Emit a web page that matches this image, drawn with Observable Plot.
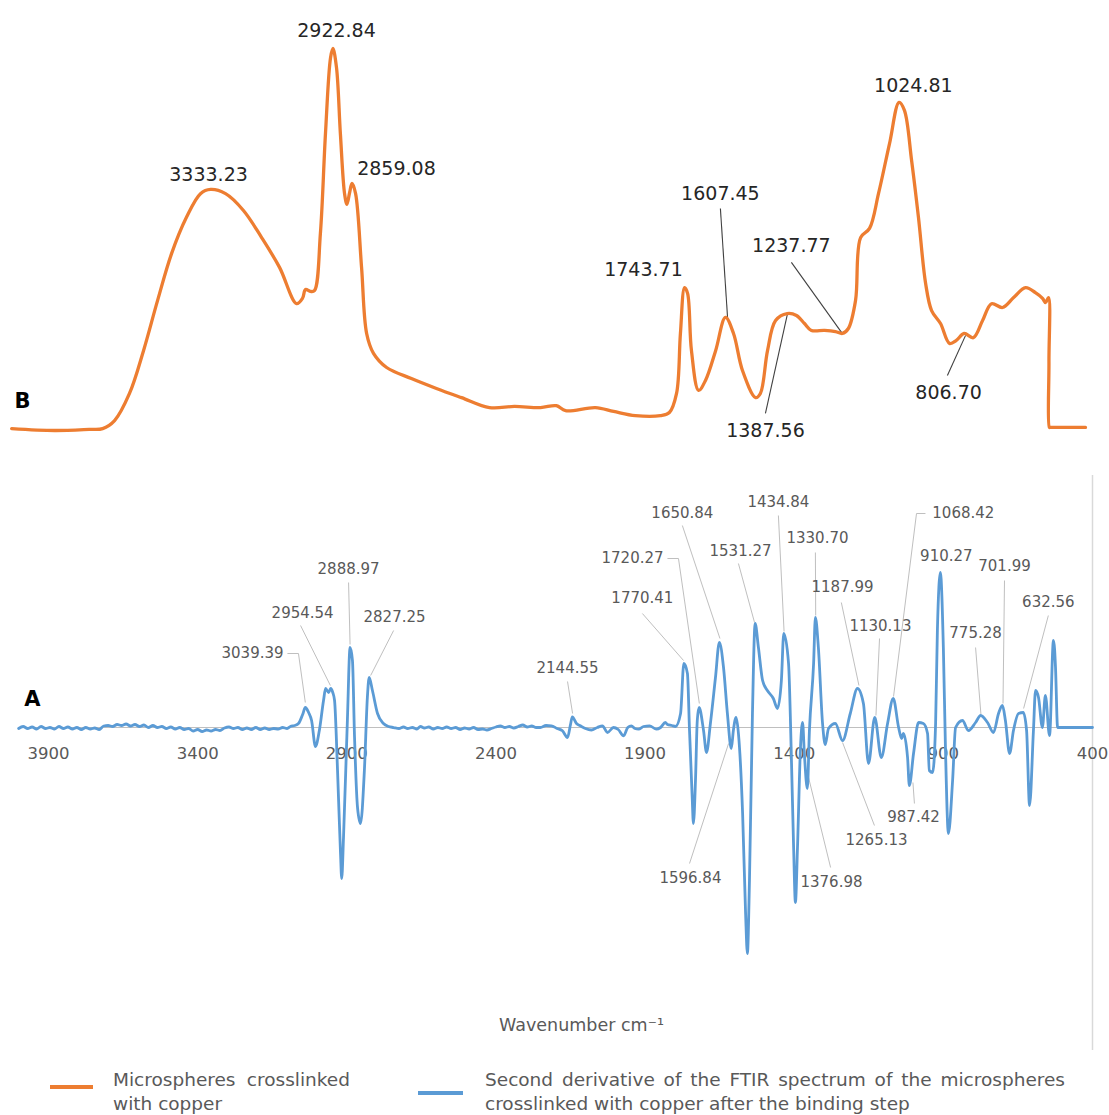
<!DOCTYPE html>
<html>
<head>
<meta charset="utf-8">
<script src="https://cdn.jsdelivr.net/npm/d3@7"></script>
<script src="https://cdn.jsdelivr.net/npm/@observablehq/plot@0.6"></script>
<style>
  html, body { margin: 0; padding: 0; background: #fff; }
  body { width: 1109px; height: 1115px; overflow: hidden; position: relative; font-family: 'DejaVu Sans', sans-serif; }
  #chartB { position: absolute; left: 0; top: 0; }
  #chartA { position: absolute; left: 0; top: 460px; }
  .sw { position: absolute; height: 4px; }
  .lg { position: absolute; top: 1068px; font-size: 18.5px; line-height: 24px; color: #595959; white-space: nowrap; }
  .lg .j { text-align: justify; text-align-last: justify; white-space: normal; }
</style>
</head>
<body>
<div id="chartB"></div>
<div id="chartA"></div>
<div id="legend"></div>
<script>
// ---------- DATA ----------
const xTicks = [3900, 3400, 2900, 2400, 1900, 1400, 900, 400];

// B: FTIR spectrum (relative absorbance) of microspheres crosslinked with copper
const spectrumB = [
  [4000,0.005],[3856,0],[3740,0.003],[3695,0.005],[3655,0.026],[3605,0.097],[3558,0.209],[3511,0.340],
  [3464,0.463],[3414,0.558],[3367,0.620],[3333,0.631],[3283,0.620],[3223,0.576],[3162,0.505],[3102,0.427],
  [3045,0.332],[3025,0.346],[3015,0.369],[2998,0.364],[2985,0.366],[2965,0.516],[2948,0.777],[2931,0.976],
  [2923,1.0],[2911,0.950],[2898,0.777],[2884,0.620],[2876,0.592],[2867,0.623],[2859,0.647],[2847,0.620],
  [2827,0.427],[2810,0.254],[2787,0.202],[2743,0.165],[2660,0.136],[2576,0.110],[2492,0.086],[2398,0.060],
  [2314,0.063],[2227,0.060],[2174,0.065],[2143,0.052],[2043,0.060],[1982,0.050],[1909,0.039],[1825,0.039],
  [1795,0.047],[1771,0.097],[1758,0.254],[1744,0.374],[1734,0.359],[1721,0.209],[1697,0.105],[1674,0.131],
  [1640,0.209],[1607,0.296],[1580,0.254],[1550,0.157],[1506,0.086],[1490,0.097],[1466,0.209],[1439,0.288],
  [1400,0.306],[1369,0.301],[1342,0.280],[1319,0.262],[1275,0.262],[1238,0.259],[1215,0.254],[1195,0.267],
  [1171,0.340],[1154,0.505],[1124,0.529],[1094,0.620],[1057,0.751],[1025,0.859],[1007,0.838],[983,0.707],
  [960,0.558],[936,0.385],[916,0.314],[886,0.280],[856,0.228],[833,0.236],[807,0.254],[776,0.243],
  [745,0.288],[715,0.332],[678,0.322],[641,0.348],[601,0.374],[568,0.361],[544,0.346],[534,0.335],
  [524,0.348],[522.5,0.178],[521,0.008],[518,0.008],[480,0.008],[440,0.008],[400,0.008]
];

// A: second derivative of the FTIR spectrum after the binding step (a.u.)
const spectrumA = [
  [4000,-0.01],[3985,0.01],[3970,-0.01],[3955,0.005],[3940,-0.015],[3925,0.01],[3910,-0.01],[3895,0.0],
  [3880,-0.015],[3865,0.01],[3850,-0.01],[3835,0.005],[3820,-0.015],[3805,0.0],[3790,-0.02],[3775,0.0],
  [3760,-0.015],[3745,-0.005],[3730,-0.02],[3715,0.015],[3700,0.02],[3685,0.01],[3670,0.03],[3655,0.02],
  [3640,0.035],[3625,0.015],[3610,0.03],[3595,0.01],[3580,0.025],[3565,0.0],[3550,0.02],[3535,0.0],
  [3520,0.01],[3505,-0.01],[3490,0.005],[3475,-0.015],[3460,0.0],[3445,-0.02],[3430,-0.01],[3415,-0.035],
  [3400,-0.02],[3385,-0.04],[3370,-0.025],[3355,-0.035],[3340,-0.02],[3325,-0.03],[3310,-0.005],[3295,0.005],
  [3280,-0.01],[3265,0.0],[3250,-0.02],[3235,-0.005],[3220,-0.02],[3205,0.0],[3190,-0.02],[3175,-0.005],
  [3160,-0.02],[3145,-0.01],[3130,-0.015],[3115,0.0],[3100,-0.01],[3089,0.01],[3075,0.02],[3062,0.04],
  [3048,0.13],[3039,0.20],[3028,0.15],[3018,0.07],[3005,-0.19],[2992,-0.03],[2978,0.27],[2971,0.39],
  [2961,0.35],[2954,0.39],[2947,0.35],[2941,0.27],[2931,-0.43],[2921,-1.26],[2917,-1.51],[2911,-1.10],
  [2898,0.07],[2889,0.80],[2881,0.67],[2874,-0.10],[2864,-0.80],[2854,-0.96],[2841,-0.43],[2831,0.30],
  [2825,0.50],[2814,0.37],[2797,0.14],[2777,0.04],[2760,0.01],[2743,0.0],[2725,-0.01],[2710,0.005],
  [2696,-0.01],[2680,0.0],[2665,-0.015],[2653,0.01],[2640,-0.005],[2625,0.005],[2610,-0.015],[2595,0.0],
  [2580,-0.01],[2565,0.005],[2550,-0.01],[2535,0.0],[2520,-0.02],[2505,-0.005],[2490,-0.015],[2475,0.0],
  [2460,-0.02],[2445,-0.015],[2430,-0.025],[2415,-0.01],[2400,0.005],[2385,0.015],[2370,0.0],[2355,0.01],
  [2340,-0.005],[2325,0.01],[2310,0.025],[2295,0.005],[2280,0.015],[2265,0.0],[2251,0.0],[2232,0.02],
  [2214,0.017],[2195,-0.01],[2177,-0.033],[2160,-0.10],[2150,0.03],[2144,0.107],[2130,0.04],[2117,0.017],
  [2100,-0.01],[2080,-0.025],[2060,0.0],[2043,0.017],[2026,-0.05],[2006,0.0],[1990,-0.02],[1972,-0.083],
  [1958,0.0],[1946,0.017],[1934,-0.01],[1922,-0.017],[1905,0.01],[1885,0.017],[1862,-0.017],[1848,0.0],
  [1832,0.05],[1825,0.03],[1810,0.02],[1798,0.01],[1781,0.14],[1770,0.64],[1758,0.54],[1751,-0.03],
  [1742,-0.70],[1738,-0.96],[1731,-0.53],[1725,0.07],[1719,0.20],[1704,-0.03],[1694,-0.25],[1681,0.04],
  [1664,0.50],[1651,0.85],[1637,0.60],[1624,0.14],[1611,-0.21],[1604,-0.03],[1595,0.10],[1587,-0.06],
  [1573,-0.86],[1563,-1.86],[1557,-2.26],[1550,-1.53],[1540,0.14],[1531,1.04],[1520,0.80],[1506,0.47],
  [1490,0.37],[1470,0.29],[1456,0.19],[1443,0.47],[1435,0.94],[1419,0.64],[1409,-0.36],[1402,-1.20],
  [1396,-1.75],[1389,-1.20],[1379,-0.20],[1372,0.05],[1366,-0.26],[1356,-0.61],[1349,-0.03],[1335,0.64],
  [1329,1.10],[1319,0.80],[1305,0.04],[1296,-0.17],[1285,-0.01],[1262,0.04],[1238,-0.13],[1212,0.14],
  [1188,0.39],[1168,0.24],[1151,-0.36],[1130,0.10],[1108,-0.30],[1087,0.04],[1068,0.29],[1050,0.0],
  [1040,-0.11],[1034,-0.06],[1020,-0.30],[1014,-0.58],[1000,-0.26],[983,0.05],[967,0.04],[953,-0.06],
  [947,-0.43],[936,-0.45],[926,0.04],[920,0.97],[910,1.55],[900,0.80],[893,-0.20],[883,-1.06],
  [869,-0.53],[859,0.0],[836,0.07],[816,-0.03],[792,0.05],[775,0.12],[752,0.05],[732,-0.05],
  [715,0.14],[702,0.22],[692,0.07],[678,-0.26],[665,-0.03],[648,0.14],[632,0.15],[621,-0.03],
  [611,-0.78],[598,-0.03],[591,0.37],[581,0.30],[568,0.0],[558,0.32],[544,-0.08],[531,0.87],
  [527,0.78],[524,0.60],[517,0.0],[400,0.0]
];

// Peak labels (text, label wavenumber, label value)
const labelsB = [
  ["3333.23",3340,0.668],["2922.84",2911,1.047],["2859.08",2710,0.686],["1743.71",1882,0.421],
  ["1607.45",1624,0.620],["1237.77",1386,0.484],["1024.81",977,0.901],["1387.56",1473,0.0],["806.70",859,0.099]
];
const leadersB = [
  [1624,0.581,1600,0.296],[1386,0.440,1218,0.257],[1473,0.045,1399,0.306],[863,0.144,802,0.249]
];
const labelsA = [
  ["3039.39",3216,0.74],["2954.54",3048,1.14],["2888.97",2894,1.58],["2827.25",2740,1.10],
  ["2144.55",2160,0.59],["1770.41",1909,1.29],["1720.27",1942,1.69],["1650.84",1775,2.14],
  ["1531.27",1580,1.76],["1434.84",1453,2.25],["1330.70",1322,1.89],["1187.99",1238,1.40],
  ["1130.13",1111,1.01],["1068.42",833,2.14],["910.27",890,1.71],["775.28",792,0.94],
  ["701.99",695,1.61],["632.56",548,1.25],["1596.84",1748,-1.51],["1376.98",1275,-1.55],
  ["1265.13",1124,-1.13],["987.42",1000,-0.90]
];
const leadersA = [
  [3099,0.74,3062,0.74],[3062,0.74,3039,0.25],[3055,1.02,2955,0.42],[2894,1.45,2889,0.83],
  [2743,0.97,2820,0.52],[2160,0.46,2143,0.14],[1909,1.14,1771,0.67],[1825,1.69,1788,1.69],
  [1788,1.69,1718,0.24],[1775,2.02,1649,0.89],[1587,1.64,1533,1.05],[1453,2.12,1434,0.96],
  [1329,1.75,1328,1.12],[1242,1.25,1183,0.42],[1114,0.89,1126,0.12],[960,2.14,990,2.14],
  [990,2.14,1067,0.31],[792,0.80,774,0.13],[695,1.47,700,0.24],[548,1.12,631,0.19],
  [1751,-1.36,1620,-0.16],[1278,-1.40,1356,-0.45],[1131,-0.98,1238,-0.15],[997,-0.76,1002,-0.55]
];
const panelB = [["B",3964,0.076]];
const panelA = [["A",3954,0.28]];
const axisTitle = ["Wavenumber cm\u207B\u00B9"];
const legendItems = [
  {color: "#ED7D31", lines: ["Microspheres crosslinked", "with copper"]},
  {color: "#5B9BD5", lines: ["Second derivative of the FTIR spectrum of the microspheres", "crosslinked with copper after the binding step"]}
];

// ---------- CHART ----------
const ORANGE = "#ED7D31", BLUE = "#5B9BD5";
const svgStyle = {fontFamily: "'DejaVu Sans', sans-serif", background: "transparent", overflow: "visible"};

const plotB = Plot.plot({
  width: 1109, height: 460,
  marginLeft: 41, marginRight: 24, marginTop: 48, marginBottom: 30,
  style: svgStyle,
  x: {domain: [3900, 400], axis: null},
  y: {domain: [0, 1], axis: null},
  marks: [
    Plot.link(leadersB, {x1: d => d[0], y1: d => d[1], x2: d => d[2], y2: d => d[3], stroke: "#404040", strokeWidth: 1.1}),
    Plot.line(spectrumB, {x: d => d[0], y: d => d[1], stroke: ORANGE, strokeWidth: 3.3, curve: "catmull-rom"}),
    Plot.text(labelsB, {x: d => d[1], y: d => d[2], text: d => d[0], fontSize: 19, fill: "#262626"}),
    Plot.text(panelB, {x: d => d[1], y: d => d[2], text: d => d[0], fontSize: 21, fontWeight: "bold", fill: "#000"})
  ]
});
document.getElementById("chartB").appendChild(plotB);

const plotA = Plot.plot({
  width: 1109, height: 600,
  marginLeft: 48, marginRight: 17, marginTop: 15, marginBottom: 10,
  style: svgStyle,
  x: {domain: [3900, 400], axis: null},
  y: {domain: [-3.23, 2.52], axis: null},
  marks: [
    Plot.ruleY([0], {x1: 4000, x2: 400, stroke: "#bfbfbf", strokeWidth: 1}),
    Plot.ruleX([400], {stroke: "#d9d9d9", strokeWidth: 1.5}),
    Plot.text(xTicks, {x: d => d, y: 0, dy: 26, text: d => String(d), fontSize: 16.5, fill: "#595959"}),
    Plot.link(leadersA, {x1: d => d[0], y1: d => d[1], x2: d => d[2], y2: d => d[3], stroke: "#bfbfbf", strokeWidth: 1}),
    Plot.line(spectrumA, {x: d => d[0], y: d => d[1], stroke: BLUE, strokeWidth: 2.8, curve: "monotone-x"}),
    Plot.text(labelsA, {x: d => d[1], y: d => d[2], text: d => d[0], fontSize: 15, fill: "#595959"}),
    Plot.text(panelA, {x: d => d[1], y: d => d[2], text: d => d[0], fontSize: 21, fontWeight: "bold", fill: "#000"}),
    Plot.text(axisTitle, {frameAnchor: "bottom", dy: -20, dx: 11, text: d => d, fontSize: 17.5, fill: "#595959"})
  ]
});
document.getElementById("chartA").appendChild(plotA);

// ---------- LEGEND ----------
const legendLayout = [
  {swLeft: 50, swTop: 1085, swWidth: 43, textLeft: 113, textWidth: 237},
  {swLeft: 418, swTop: 1091, swWidth: 45, textLeft: 485, textWidth: 580}
];
const legendBox = document.getElementById("legend");
legendItems.forEach((item, i) => {
  const L = legendLayout[i];
  const sw = document.createElement("div");
  sw.className = "sw";
  sw.style.left = L.swLeft + "px"; sw.style.top = L.swTop + "px";
  sw.style.width = L.swWidth + "px"; sw.style.background = item.color;
  legendBox.appendChild(sw);
  const t = document.createElement("div");
  t.className = "lg";
  t.style.left = L.textLeft + "px"; t.style.width = L.textWidth + "px";
  const l1 = document.createElement("div"); l1.className = "j"; l1.textContent = item.lines[0];
  const l2 = document.createElement("div"); l2.textContent = item.lines[1];
  t.appendChild(l1); t.appendChild(l2);
  legendBox.appendChild(t);
});
</script>
</body>
</html>
